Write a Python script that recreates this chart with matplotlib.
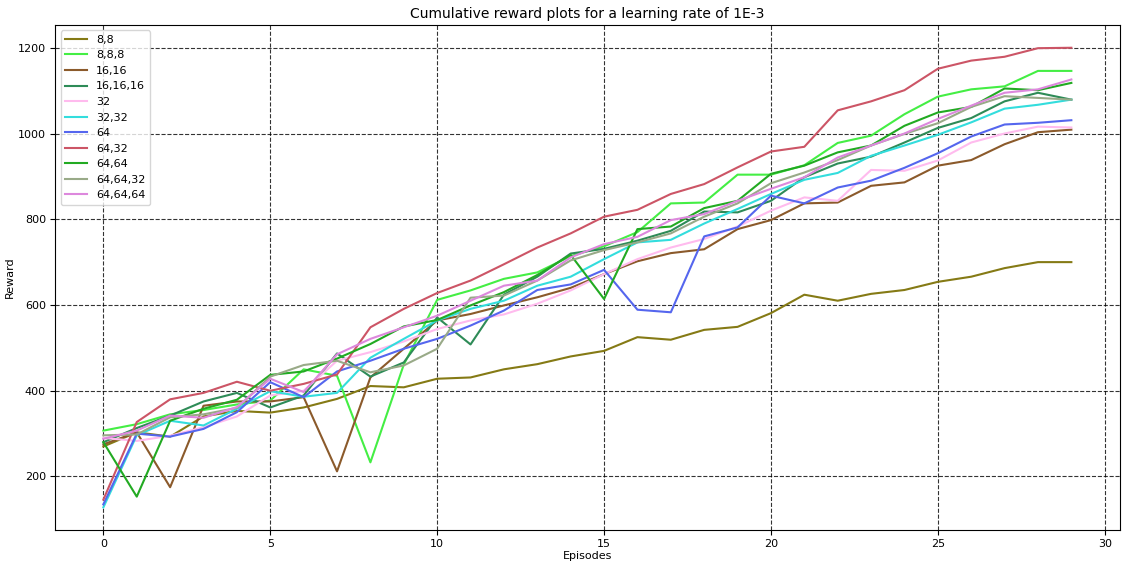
import matplotlib
matplotlib.use("Agg")
import matplotlib.pyplot as plt
import numpy as np

episodes = list(range(30))

labels = ["8,8", "8,8,8", "16,16", "16,16,16", "32", "32,32", "64", "64,32", "64,64", "64,64,32", "64,64,64"]

r_8_8 = [270, 303, 293, 340, 353, 349, 361, 381, 411, 408, 428, 431, 450, 462, 480, 493, 525, 519, 542, 549,
         581, 624, 610, 626, 635, 654, 666, 686, 700, 700]
r_8_8_8 = [307, 322, 345, 355, 368, 377, 450, 435, 233, 461, 612, 634, 661, 676, 714, 737, 770, 837, 839, 904,
           904, 926, 978, 995, 1045, 1086, 1103, 1110, 1146, 1146]
r_16_16 = [275, 303, 175, 365, 375, 375, 385, 212, 431, 498, 564, 579, 599, 618, 640, 672, 702, 721, 730, 777,
           798, 837, 839, 878, 886, 925, 938, 975, 1003, 1009]
r_16_16_16 = [280, 313, 342, 375, 395, 361, 389, 487, 433, 466, 571, 508, 624, 666, 720, 731, 750, 773, 818, 816,
              843, 898, 930, 946, 979, 1013, 1036, 1075, 1095, 1079]
r_32 = [290, 283, 295, 315, 340, 389, 400, 470, 490, 515, 544, 564, 578, 603, 634, 672, 707, 734, 754, 783,
        820, 851, 843, 915, 913, 937, 979, 1000, 1016, 1014]
r_32_32 = [128, 296, 330, 319, 358, 399, 386, 395, 477, 521, 564, 591, 610, 645, 666, 707, 746, 752, 790, 824,
           859, 892, 908, 948, 972, 997, 1026, 1058, 1067, 1079]
r_64 = [135, 300, 293, 311, 350, 420, 385, 445, 470, 498, 521, 552, 587, 635, 648, 682, 589, 583, 760, 781,
        855, 837, 874, 890, 920, 954, 993, 1021, 1025, 1031]
r_64_32 = [146, 327, 380, 395, 421, 400, 416, 438, 548, 591, 628, 657, 695, 734, 767, 806, 822, 859, 882, 921,
           958, 969, 1054, 1075, 1101, 1151, 1170, 1179, 1199, 1200]
r_64_64 = [280, 153, 330, 358, 379, 437, 445, 475, 509, 550, 565, 599, 630, 670, 717, 614, 777, 783, 826, 843,
           906, 925, 956, 972, 1018, 1049, 1062, 1105, 1101, 1118]
r_64_64_32 = [296, 298, 338, 345, 360, 433, 460, 470, 443, 459, 498, 617, 622, 657, 704, 728, 746, 767, 806, 837,
              884, 909, 938, 972, 999, 1024, 1062, 1087, 1083, 1079]
r_64_64_64 = [288, 307, 342, 337, 362, 428, 397, 485, 521, 548, 575, 610, 645, 657, 711, 742, 759, 798, 812, 843,
              871, 898, 944, 972, 1000, 1034, 1065, 1095, 1103, 1126]

series = [r_8_8, r_8_8_8, r_16_16, r_16_16_16, r_32, r_32_32, r_64, r_64_32, r_64_64, r_64_64_32, r_64_64_64]
colors = ["#857a15", "#44ee44", "#8b5a2b", "#2e8b57", "#ffbbee", "#33dddd", "#5566ee", "#cc5566",
          "#22aa22", "#99aa88", "#dd88dd"]

fig = plt.figure(figsize=(11.22, 5.63), dpi=100)
ax = fig.add_axes([0.049, 0.058, 0.949, 0.898])
for lab, vals, c in zip(labels, series, colors):
    ax.plot(episodes, vals, color=c, label=lab, linewidth=1.5)

ax.grid(True, color="black", linestyle="--", linewidth=0.8, alpha=0.8)
ax.set_title("Cumulative reward plots for a learning rate of 1E-3", fontsize=10, pad=5)
ax.set_xlabel("Episodes", fontsize=8, labelpad=1)
ax.set_ylabel("Reward", fontsize=8, labelpad=2)
ax.tick_params(labelsize=8, pad=3)
ax.legend(loc="upper left", fontsize=8)
fig.savefig("out.png", dpi=100)
